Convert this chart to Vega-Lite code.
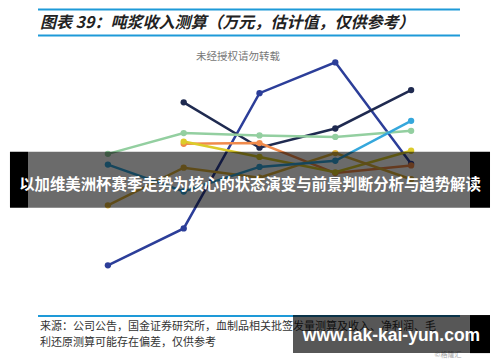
{
  "$schema": "https://vega.github.io/schema/vega-lite/v6.json",
  "width": 379,
  "height": 246,
  "autosize": "none",
  "padding": {"left": 70, "top": 47, "right": 51, "bottom": 69},
  "background": "white",
  "config": {"view": {"stroke": null}},
  "data": {"values": [
    {"s": "A", "year": 2013, "v": 118}, {"s": "A", "year": 2014, "v": 142}, {"s": "A", "year": 2015, "v": 230}, {"s": "A", "year": 2016, "v": 250}, {"s": "A", "year": 2017, "v": 184},
    {"s": "B", "year": 2014, "v": 224}, {"s": "B", "year": 2015, "v": 194.5}, {"s": "B", "year": 2016, "v": 207}, {"s": "B", "year": 2017, "v": 232},
    {"s": "C", "year": 2013, "v": 190.5}, {"s": "C", "year": 2014, "v": 204}, {"s": "C", "year": 2015, "v": 202.5}, {"s": "C", "year": 2016, "v": 201.5}, {"s": "C", "year": 2017, "v": 205.5},
    {"s": "D", "year": 2014, "v": 197}, {"s": "D", "year": 2015, "v": 197.5}, {"s": "D", "year": 2016, "v": 178}, {"s": "D", "year": 2017, "v": 183},
    {"s": "E", "year": 2014, "v": 198.5}, {"s": "E", "year": 2015, "v": 188.5}, {"s": "E", "year": 2016, "v": 178.5}, {"s": "E", "year": 2017, "v": 192.5},
    {"s": "F", "year": 2013, "v": 157}, {"s": "F", "year": 2014, "v": 181.5}, {"s": "F", "year": 2015, "v": 175}, {"s": "F", "year": 2016, "v": 191}, {"s": "F", "year": 2017, "v": 174},
    {"s": "G", "year": 2013, "v": 183.5}, {"s": "G", "year": 2014, "v": 166}, {"s": "G", "year": 2015, "v": 182}, {"s": "G", "year": 2016, "v": 186}, {"s": "G", "year": 2017, "v": 212}
  ]},
  "layer": [
    {
      "mark": {"type": "line", "strokeWidth": 2.5, "point": {"filled": true, "size": 40}},
      "encoding": {
        "x": {"field": "year", "type": "quantitative", "scale": {"domain": [2012.5, 2017.5], "nice": false, "zero": false},
              "axis": {"title": null, "values": [2013, 2014, 2015, 2016, 2017], "format": "d", "grid": false, "ticks": false, "domainColor": "#d4d4d4", "domainWidth": 1, "labelPadding": 8, "labelFont": "Liberation Serif", "labelFontSize": 11.5, "labelColor": "#555555"}},
        "y": {"field": "v", "type": "quantitative", "scale": {"domain": [100, 260], "nice": false, "zero": false},
              "axis": {"title": null, "values": [100, 120, 140, 160, 180, 200, 220, 240, 260], "grid": false, "ticks": false, "domain": false, "labelPadding": 8, "labelFont": "Liberation Serif", "labelFontSize": 11.5, "labelColor": "#555555"}},
        "color": {"field": "s", "type": "nominal", "legend": null,
                  "scale": {"domain": ["A", "B", "C", "D", "E", "F", "G"], "range": ["#2c3e99", "#1f2a50", "#93cfa0", "#f08a4b", "#dccb2a", "#e0b43c", "#35a7dc"]}}
      }
    },
    {
      "data": {"values": [{}]},
      "mark": {"type": "text", "text": "未经授权请勿转载", "font": "Noto Sans CJK SC", "fontSize": 10.5, "color": "#777777"},
      "encoding": {
        "x": {"datum": 2014.716, "scale": {"domain": [2012.5, 2017.5]}, "axis": null},
        "y": {"datum": 253.8, "scale": {"domain": [100, 260]}, "axis": null}
      }
    },
    {
      "data": {"values": [{}]},
      "mark": {"type": "text", "text": "图表 39：吨浆收入测算（万元，估计值，仅供参考）", "font": "Noto Sans CJK SC", "fontSize": 16, "fontWeight": "bold", "fontStyle": "italic", "color": "#222222", "align": "left", "baseline": "middle"},
      "encoding": {
        "x": {"datum": 2012.104, "scale": {"domain": [2012.5, 2017.5]}, "axis": null},
        "y": {"datum": 275.9, "scale": {"domain": [100, 260]}, "axis": null}
      }
    },
    {
      "data": {"values": [{"k": 284.4}, {"k": 267.4}, {"k": 85.0}]},
      "mark": {"type": "rule", "color": "#1e9ad8", "strokeWidth": 2},
      "encoding": {
        "x": {"datum": 2012.078, "scale": {"domain": [2012.5, 2017.5]}, "axis": null},
        "x2": {"datum": 2017.645},
        "y": {"field": "k", "type": "quantitative", "scale": {"domain": [100, 260]}, "axis": null}
      }
    },
    {
      "data": {"values": [{}]},
      "mark": {"type": "text", "text": "来源：公司公告，国金证券研究所，血制品相关批签发量测算及收入、净利润、毛", "font": "Noto Sans CJK SC", "fontSize": 11, "color": "#333333", "align": "left", "baseline": "middle"},
      "encoding": {
        "x": {"datum": 2012.104, "scale": {"domain": [2012.5, 2017.5]}, "axis": null},
        "y": {"datum": 77.85, "scale": {"domain": [100, 260]}, "axis": null}
      }
    },
    {
      "data": {"values": [{}]},
      "mark": {"type": "text", "text": "利还原测算可能存在偏差，仅供参考", "font": "Noto Sans CJK SC", "fontSize": 11, "color": "#333333", "align": "left", "baseline": "middle"},
      "encoding": {
        "x": {"datum": 2012.104, "scale": {"domain": [2012.5, 2017.5]}, "axis": null},
        "y": {"datum": 67.4, "scale": {"domain": [100, 260]}, "axis": null}
      }
    },
    {
      "data": {"values": [{}]},
      "mark": {"type": "text", "text": "©格隆汇", "font": "Noto Sans CJK SC", "fontSize": 7, "color": "#aaaaaa", "align": "center", "baseline": "middle"},
      "encoding": {
        "x": {"datum": 2017.487, "scale": {"domain": [2012.5, 2017.5]}, "axis": null},
        "y": {"datum": 59.6, "scale": {"domain": [100, 260]}, "axis": null}
      }
    },
    {
      "data": {"values": [{}]},
      "mark": {"type": "rect", "color": "#000000", "opacity": 0.58},
      "encoding": {
        "x": {"datum": 2011.946, "scale": {"domain": [2012.5, 2017.5]}, "axis": null},
        "x2": {"datum": 2017.777},
        "y": {"datum": 191.86, "scale": {"domain": [100, 260]}, "axis": null},
        "y2": {"datum": 155.4}
      }
    },
    {
      "data": {"values": [{"a": 2011.708, "b": 2011.946}, {"a": 2017.777, "b": 2018.041}]},
      "mark": {"type": "rect", "color": "#000000", "opacity": 1},
      "encoding": {
        "x": {"field": "a", "type": "quantitative", "scale": {"domain": [2012.5, 2017.5]}, "axis": null},
        "x2": {"field": "b"},
        "y": {"datum": 191.86, "scale": {"domain": [100, 260]}, "axis": null},
        "y2": {"datum": 155.4}
      }
    },
    {
      "data": {"values": [{}]},
      "mark": {"type": "text", "text": "以加维美洲杯赛季走势为核心的状态演变与前景判断分析与趋势解读", "font": "Noto Sans CJK SC", "fontSize": 15.4, "fontWeight": "bold", "color": "#ffffff", "align": "center", "baseline": "middle"},
      "encoding": {
        "x": {"datum": 2014.875, "scale": {"domain": [2012.5, 2017.5]}, "axis": null},
        "y": {"datum": 170.4, "scale": {"domain": [100, 260]}, "axis": null}
      }
    },
    {
      "data": {"values": [{}]},
      "mark": {"type": "rect", "color": "#000000", "opacity": 0.66},
      "encoding": {
        "x": {"datum": 2015.442, "scale": {"domain": [2012.5, 2017.5]}, "axis": null},
        "x2": {"datum": 2017.777},
        "y": {"datum": 85.67, "scale": {"domain": [100, 260]}, "axis": null},
        "y2": {"datum": 60.91}
      }
    },
    {
      "data": {"values": [{}]},
      "mark": {"type": "rect", "color": "#000000", "opacity": 1},
      "encoding": {
        "x": {"datum": 2017.777, "scale": {"domain": [2012.5, 2017.5]}, "axis": null},
        "x2": {"datum": 2018.041},
        "y": {"datum": 85.67, "scale": {"domain": [100, 260]}, "axis": null},
        "y2": {"datum": 60.91}
      }
    },
    {
      "data": {"values": [{}]},
      "mark": {"type": "text", "text": "www.iak-kai-yun.com", "font": "Liberation Sans", "fontSize": 17.5, "fontWeight": "bold", "color": "#ffffff", "align": "center", "baseline": "middle"},
      "encoding": {
        "x": {"datum": 2016.741, "scale": {"domain": [2012.5, 2017.5]}, "axis": null},
        "y": {"datum": 72.0, "scale": {"domain": [100, 260]}, "axis": null}
      }
    }
  ]
}
